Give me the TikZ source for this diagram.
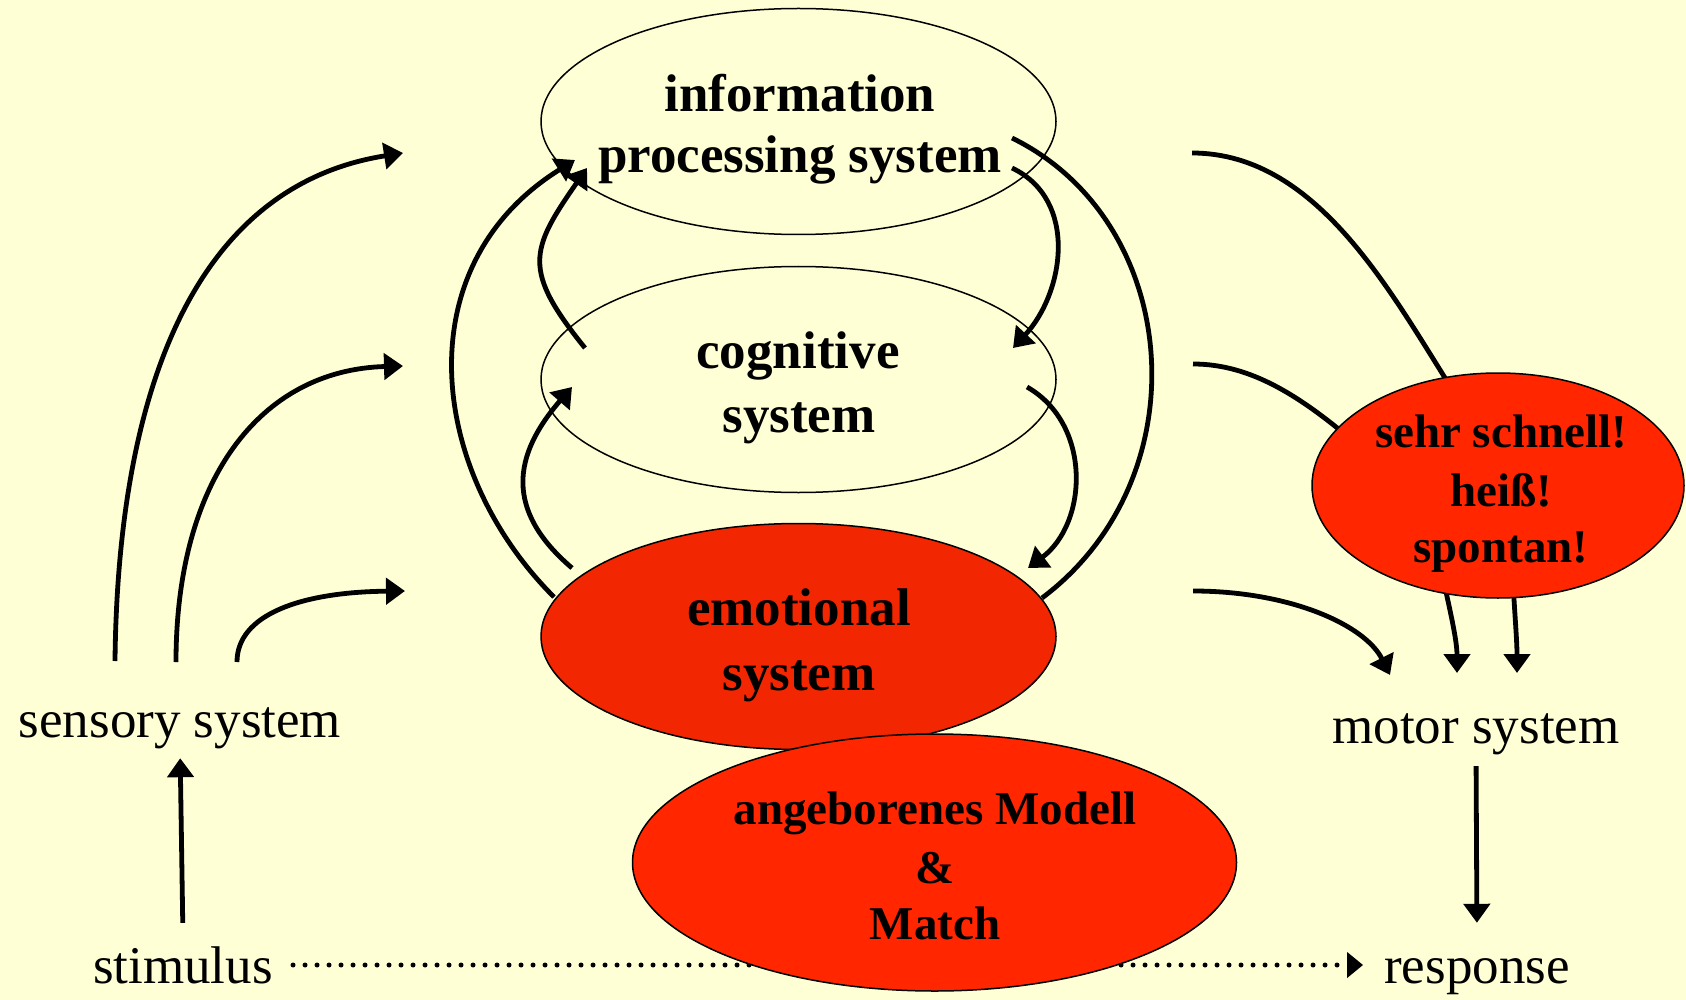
\documentclass[tikz,border=0pt]{standalone}
\usepackage{fontspec}
\setmainfont{Liberation Serif}
\usetikzlibrary{arrows.meta,shapes.geometric}
\definecolor{bgyellow}{RGB}{255,255,214}
\definecolor{emored}{RGB}{242,38,0}
\definecolor{hotred}{RGB}{255,38,0}
\begin{document}
\begin{tikzpicture}[x=1pt,y=-1pt,
  sysell/.style={ellipse, draw=black, line width=1.5pt, inner sep=0pt, minimum width=515pt, minimum height=226pt},
  boldtxt/.style={font=\fontsize{53}{60}\selectfont\bfseries, inner sep=0pt, anchor=base},
  smalltxt/.style={font=\fontsize{47}{56}\selectfont\bfseries, inner sep=0pt, anchor=base},
  plaintxt/.style={font=\fontsize{53}{60}\selectfont, inner sep=0pt, text height=44pt, text depth=8pt, anchor=base},
  flow/.style={line width=4.8pt, -{Triangle[length=19pt,width=26pt]}},
  plainline/.style={line width=4.8pt},
  dotline/.style={line width=5pt, line cap=round, dash pattern=on 0pt off 12pt, -{Triangle[length=16pt,width=25pt]}}
]
\useasboundingbox (0,0) rectangle (1686,1000);
\fill[bgyellow] (0,0) rectangle (1686,1000);

% upper (unfilled) ellipses
\node[sysell] (info) at (798.5,121.5) {};
\node[sysell] (cog) at (798.5,379.5) {};

% text labels outside ellipses
\node[plaintxt] (sensory) at (180,737) {sensory system};
\node[plaintxt] (stimulus) at (183,983) {stimulus};
\node[plaintxt] (motor) at (1476,743) {motor system};
\node[plaintxt] (response) at (1477,983) {response};

% free-end coordinates
\coordinate (s1a) at (115,661);  \coordinate (s1b) at (403,153);
\coordinate (s2a) at (176,662);  \coordinate (s2b) at (403,366);
\coordinate (s3a) at (237,662);  \coordinate (s3b) at (405,591);
\coordinate (a1a) at (554,597);  \coordinate (a1b) at (575,160);
\coordinate (a2a) at (585,348);  \coordinate (a2b) at (587,168);
\coordinate (a3a) at (572,568);  \coordinate (a3b) at (572,387);
\coordinate (b1a) at (1012,138); \coordinate (b1b) at (1042,598);
\coordinate (b2a) at (1012,168); \coordinate (b2b) at (1013,348);
\coordinate (b3a) at (1027,387); \coordinate (b3b) at (1028,568);
\coordinate (r1a) at (1192,153); \coordinate (r1b) at (1459,400);
\coordinate (r1c) at (1440,565); \coordinate (r1d) at (1457,673);
\coordinate (r2a) at (1193,364); \coordinate (r2b) at (1360,447);
\coordinate (r2c) at (1512,565); \coordinate (r2d) at (1517,673);
\coordinate (r3a) at (1193,591); \coordinate (r3b) at (1390,675);

% dotted stimulus -> response
\draw[dotline, shorten <=20pt, shorten >=21pt] (stimulus.east) -- (response.west);

% vertical arrows
\draw[flow, shorten <=16pt, shorten >=13pt] (stimulus.north) -- (sensory.south);
\draw[flow, shorten <=15pt, shorten >=16pt] (motor.south) -- (response.north);

% sensory arrows
\draw[flow] (s1a) .. controls (118,380) and (200,185) .. (s1b);
\draw[flow] (s2a) .. controls (176,480) and (260,370) .. (s2b);
\draw[flow] (s3a) .. controls (237,615) and (300,592) .. (s3b);

% central loop arrows
\draw[flow] (a1a) .. controls (428,471) and (405,266) .. (a1b);
\draw[flow] (a2a) .. controls (522,270) and (530,250) .. (a2b);
\draw[flow] (a3a) .. controls (504,510) and (513,455) .. (a3b);
\draw[plainline] (b1a) .. controls (1183,222) and (1202,478) .. (b1b);
\draw[flow] (b2a) .. controls (1079,200) and (1064,293) .. (b2b);
\draw[flow] (b3a) .. controls (1092,424) and (1088,523) .. (b3b);

% right side arrows
\draw[plainline] (r1a) .. controls (1320,153) and (1394,299) .. (r1b);
\draw[flow] (r1c) .. controls (1450,610) and (1457,640) .. (r1d);
\draw[plainline] (r2a) .. controls (1250,364) and (1300,395) .. (r2b);
\draw[flow] (r2c) .. controls (1515,620) and (1517,640) .. (r2d);
\draw[flow] (r3a) .. controls (1290,591) and (1365,625) .. (r3b);

% red ellipses
\node[sysell, fill=emored] (emo) at (798.5,636.5) {};
\node[sysell, fill=hotred, minimum width=604pt, minimum height=257pt] (ang) at (934.5,862.5) {};
\node[sysell, fill=hotred, minimum width=372pt, minimum height=225pt] (fast) at (1498,485.5) {};

% ellipse texts
\node[boldtxt] (info1) at (800,112) {information};
\node[boldtxt] (info2) at (800,173) {processing system};
\node[boldtxt] (cog1) at (798,368) {cognitive};
\node[boldtxt] (cog2) at (799,432) {system};
\node[boldtxt] (emo1) at (799,625) {emotional};
\node[boldtxt] (emo2) at (799,690) {system};
\node[smalltxt] (ang1) at (935,824) {angeborenes Modell};
\node[smalltxt] (ang2) at (935,883) {\&};
\node[smalltxt] (ang3) at (935,939) {Match};
\node[smalltxt] (fast1) at (1501,447) {sehr schnell!};
\node[smalltxt] (fast2) at (1501,506) {heiß!};
\node[smalltxt] (fast3) at (1501,562) {spontan!};
\end{tikzpicture}
\end{document}
